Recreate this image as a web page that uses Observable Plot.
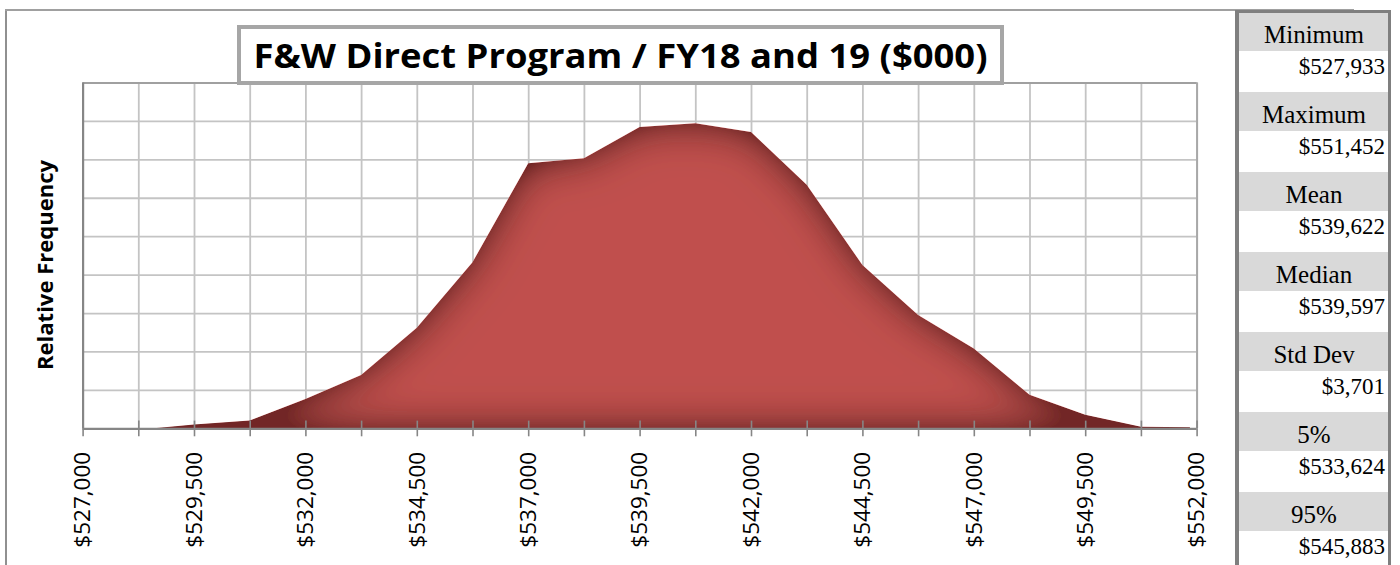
<!DOCTYPE html>
<html>
<head>
<meta charset="utf-8">
<script src="https://cdn.jsdelivr.net/npm/d3@7"></script>
<script src="https://cdn.jsdelivr.net/npm/@observablehq/plot@0.6"></script>
<style>
  html, body { margin: 0; padding: 0; background: #ffffff; }
  #wrap { position: relative; width: 1400px; height: 565px; overflow: hidden; background: #fff; }
  #wrap > svg { position: absolute; left: 0; top: 0; }
</style>
</head>
<body>
<div id="wrap"></div>
<script>
// ---- data ----
const binValue = [528600, 529500, 530750, 532000, 533250, 534500, 535750, 537000, 538250, 539500,
                  540750, 542000, 543250, 544500, 545750, 547000, 548250, 549500, 550750, 551850];
const relFrequency = [0, 0.1, 0.2, 0.76, 1.39, 2.62, 4.32, 6.9, 7.03, 7.84,
                      7.94, 7.71, 6.34, 4.25, 2.95, 2.08, 0.87, 0.35, 0.04, 0.03];
const xTickLabels = [527000, 529500, 532000, 534500, 537000, 539500, 542000, 544500, 547000, 549500, 552000];
const xMinorTicks = [527000, 528250, 529500, 530750, 532000, 533250, 534500, 535750, 537000, 538250, 539500,
                     540750, 542000, 543250, 544500, 545750, 547000, 548250, 549500, 550750, 552000];
const yGrid = [0, 1, 2, 3, 4, 5, 6, 7, 8, 9];
const statLabels = ["Minimum", "Maximum", "Mean", "Median", "Std Dev", "5%", "95%"];
const statValues = ["$527,933", "$551,452", "$539,622", "$539,597", "$3,701", "$533,624", "$545,883"];
const chartTitle = "F&W Direct Program / FY18 and 19 ($000)";
const yAxisTitle = "Relative Frequency";

const data = binValue.map((x, i) => ({x, y: relFrequency[i]}));
const fmt = d3.format("$,");
const gridColor = "#c4c4c4";
const axisColor = "#868686";

const plot = Plot.plot({
  width: 1236,
  height: 565,
  marginLeft: 82.6,
  marginRight: 39.4,
  marginTop: 82.5,
  marginBottom: 136.7,
  x: {domain: [527000, 552000], axis: null},
  y: {domain: [0, 9], axis: null},
  style: {background: "transparent", fontFamily: "'Open Sans', sans-serif", color: "#000"},
  marks: [
    Plot.gridX(xMinorTicks, {stroke: gridColor, strokeOpacity: 1, strokeWidth: 1.8}),
    Plot.gridY(yGrid, {stroke: gridColor, strokeOpacity: 1, strokeWidth: 1.8}),
    Plot.ruleY([9], {stroke: "#a0a0a0", strokeWidth: 2}),
    Plot.ruleX([552000], {stroke: "#a8a8a8", strokeWidth: 2}),
    Plot.areaY(data, {x: "x", y: "y", fill: "#c0504d", curve: "linear"}),
    Plot.ruleX(xMinorTicks, {y1: 0, y2: 0.2, stroke: axisColor, strokeWidth: 1.6}),
    Plot.axisX(xMinorTicks, {tickSize: 8, tickFormat: () => "", label: null, stroke: axisColor, strokeWidth: 1.6}),
    Plot.axisX(xTickLabels, {tickSize: 0, tickPadding: 23, tickRotate: -90, tickFormat: fmt,
                             fontSize: 22.5, label: null, fill: "#000"}),
    Plot.ruleY([0], {stroke: axisColor, strokeWidth: 2.2}),
    Plot.ruleX([527000], {stroke: axisColor, strokeWidth: 2.2})
  ]
});
document.getElementById("wrap").appendChild(plot);

// shading of the area (soft inner shadow toward its edges)
const psvg = d3.select(plot);
const defs = psvg.insert("defs", ":first-child");
const f = defs.append("filter").attr("id", "innerShade")
  .attr("x", "-5%").attr("y", "-5%").attr("width", "110%").attr("height", "110%");
f.append("feGaussianBlur").attr("in", "SourceAlpha").attr("stdDeviation", 22).attr("result", "blur");
f.append("feComposite").attr("in", "SourceAlpha").attr("in2", "blur").attr("operator", "arithmetic")
  .attr("k1", 0).attr("k2", 1.6).attr("k3", -1.6).attr("k4", 0).attr("result", "edge");
f.append("feFlood").attr("flood-color", "#4e1414").attr("flood-opacity", 0.8).attr("result", "col");
f.append("feComposite").attr("in", "col").attr("in2", "edge").attr("operator", "in").attr("result", "shadow");
f.append("feComposite").attr("in", "shadow").attr("in2", "SourceGraphic").attr("operator", "atop");
psvg.select('g[aria-label="area"]').attr("filter", "url(#innerShade)");

// ---- overlay: frame, title box, y title, statistics panel ----
const ov = d3.select("#wrap").append("svg").attr("width", 1400).attr("height", 565)
  .style("position", "absolute").style("left", "0px").style("top", "0px");

// outer frame
ov.append("line").attr("x1", 6).attr("x2", 6).attr("y1", 9).attr("y2", 565)
  .attr("stroke", "#909090").attr("stroke-width", 2);
ov.append("line").attr("x1", 5).attr("x2", 1354).attr("y1", 10).attr("y2", 10)
  .attr("stroke", "#a0a0a0").attr("stroke-width", 2);

// title box
ov.append("rect").attr("x", 239).attr("y", 27).attr("width", 763).attr("height", 56)
  .attr("fill", "#fff").attr("stroke", "#a6a6a6").attr("stroke-width", 4);
ov.append("text").attr("x", 620.5).attr("y", 68).attr("text-anchor", "middle")
  .attr("font-family", "'Open Sans', sans-serif").attr("font-weight", "bold").attr("font-size", 34)
  .attr("textLength", 734).attr("lengthAdjust", "spacingAndGlyphs")
  .attr("fill", "#000").text(chartTitle);

// y title
ov.append("text").attr("transform", "translate(53,265) rotate(-90)").attr("text-anchor", "middle")
  .attr("font-family", "'Open Sans', sans-serif").attr("font-weight", "bold").attr("font-size", 20.5)
  .attr("textLength", 210).attr("lengthAdjust", "spacingAndGlyphs")
  .attr("fill", "#000").text(yAxisTitle);

// statistics panel
const panel = ov.append("g");
statLabels.forEach((lab, k) => {
  panel.append("rect").attr("x", 1239).attr("y", 12 + 80 * k).attr("width", 149).attr("height", 39)
    .attr("fill", "#d9d9d9");
  panel.append("text").attr("x", 1314).attr("y", 43 + 80 * k).attr("text-anchor", "middle")
    .attr("font-family", "'Liberation Serif', 'Times New Roman', serif").attr("font-size", 25)
    .attr("fill", "#000").text(lab);
  panel.append("text").attr("x", 1385).attr("y", 74 + 80 * k).attr("text-anchor", "end")
    .attr("font-family", "'Liberation Serif', 'Times New Roman', serif").attr("font-size", 23)
    .attr("fill", "#000").text(statValues[k]);
});
panel.append("line").attr("x1", 1237).attr("x2", 1237).attr("y1", 10).attr("y2", 565)
  .attr("stroke", "#7f7f7f").attr("stroke-width", 4);
panel.append("line").attr("x1", 1235).attr("x2", 1391).attr("y1", 11.5).attr("y2", 11.5)
  .attr("stroke", "#7f7f7f").attr("stroke-width", 3);
panel.append("line").attr("x1", 1389.5).attr("x2", 1389.5).attr("y1", 10).attr("y2", 565)
  .attr("stroke", "#7f7f7f").attr("stroke-width", 3);
</script>
</body>
</html>
